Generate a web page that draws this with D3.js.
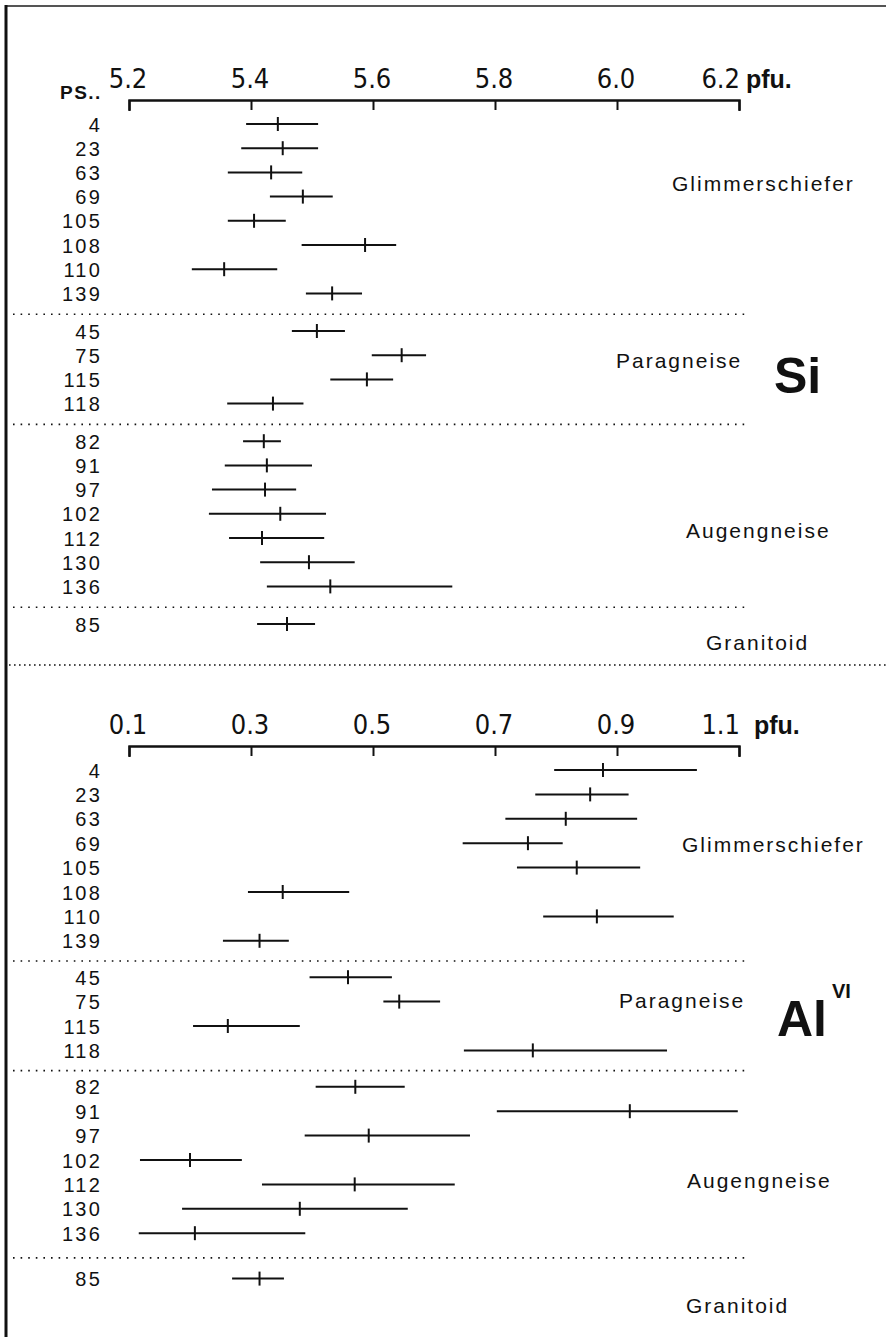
<!DOCTYPE html>
<html>
<head>
<meta charset="utf-8">
<script src="https://cdn.jsdelivr.net/npm/d3@7"></script>
<style>
  html, body { margin: 0; padding: 0; background: #fff; }
  svg { display: block; }
  .lbl { font-family: "Liberation Sans", Arial, sans-serif; fill: #111; }
  .tick-lbl { font-family: "Liberation Sans Narrow", "DejaVu Sans Condensed", sans-serif; fill: #111; }
</style>
</head>
<body>
<svg id="chart" width="886" height="1337"></svg>
<script>
// ---------------- DATA ----------------
const groups = ["Glimmerschiefer", "Paragneise", "Augengneise", "Granitoid"];
const samples = ["4","23","63","69","105","108","110","139","45","75","115","118","82","91","97","102","112","130","136","85"];
const sampleGroup = [0,0,0,0,0,0,0,0,1,1,1,1,2,2,2,2,2,2,2,3];

const siTicks = [5.2, 5.4, 5.6, 5.8, 6.0, 6.2];
const siTickLabels = ["5.2", "5.4", "5.6", "5.8", "6.0", "6.2"];
const siMean = [5.444,5.452,5.433,5.485,5.405,5.587,5.356,5.533,5.508,5.647,5.590,5.436,5.421,5.426,5.423,5.448,5.418,5.495,5.530,5.459];
const siLow  = [5.392,5.384,5.362,5.431,5.362,5.483,5.303,5.490,5.467,5.598,5.530,5.361,5.387,5.357,5.336,5.331,5.364,5.415,5.426,5.410];
const siHigh = [5.510,5.510,5.484,5.534,5.457,5.638,5.443,5.582,5.554,5.687,5.633,5.486,5.449,5.500,5.474,5.523,5.520,5.570,5.730,5.505];

const alTicks = [0.1, 0.3, 0.5, 0.7, 0.9, 1.1];
const alTickLabels = ["0.1", "0.3", "0.5", "0.7", "0.9", "1.1"];
const alMean = [0.877,0.856,0.816,0.754,0.834,0.352,0.867,0.314,0.459,0.543,0.262,0.762,0.471,0.921,0.493,0.200,0.470,0.380,0.208,0.314];
const alLow  = [0.797,0.766,0.717,0.647,0.736,0.295,0.779,0.254,0.396,0.517,0.205,0.649,0.406,0.703,0.388,0.118,0.318,0.187,0.116,0.269];
const alHigh = [1.031,0.919,0.933,0.811,0.938,0.461,0.993,0.362,0.531,0.610,0.380,0.982,0.552,1.098,0.659,0.285,0.634,0.557,0.389,0.354];

// ---------------- DRAW ----------------
const svg = d3.select("#chart");
const ink = "#111";

// frame
svg.append("line").attr("x1", 5).attr("x2", 886).attr("y1", 6).attr("y2", 6)
  .attr("stroke", "#555").attr("stroke-width", 2);
svg.append("line").attr("x1", 6).attr("x2", 6).attr("y1", 5).attr("y2", 1337)
  .attr("stroke", ink).attr("stroke-width", 3);

// section separator
svg.append("line").attr("x1", 9).attr("x2", 886).attr("y1", 665).attr("y2", 665)
  .attr("stroke", ink).attr("stroke-width", 1.6).attr("stroke-dasharray", "1.6,3.4");

function drawSection(cfg) {
  const x = d3.scaleLinear().domain(cfg.domain).range([129, 739]);
  const rowY = d3.scaleLinear().domain([0, 1]).range([cfg.top, cfg.top + cfg.step]);
  const yOf = (i) => rowY(i) + cfg.gaps[sampleGroup[i]];

  const g = svg.append("g");

  // axis: line with ticks hanging down
  const ax = g.append("g").attr("transform", `translate(0,${cfg.axisY})`)
    .call(d3.axisBottom(x).tickValues(cfg.ticks).tickSize(10).tickSizeOuter(11).tickFormat(""));
  ax.select(".domain").attr("stroke", ink).attr("stroke-width", 2.4);
  ax.selectAll(".tick line").attr("stroke", ink).attr("stroke-width", 2);

  // tick labels above the axis
  g.selectAll(null).data(cfg.ticks).enter().append("text")
    .attr("class", "tick-lbl")
    .attr("x", (d, i) => i === cfg.ticks.length - 1 ? x(d) + 1 : x(d) - 1)
    .attr("y", cfg.axisY - 12)
    .attr("text-anchor", (d, i) => i === cfg.ticks.length - 1 ? "end" : "middle")
    .attr("font-size", 27)
    .text((d, i) => cfg.tickLabels[i]);

  g.append("text").attr("class", "lbl")
    .attr("x", cfg.pfuX).attr("y", cfg.axisY - 12)
    .attr("font-size", 25).attr("font-weight", "bold")
    .text("pfu.");

  // row labels
  g.selectAll(null).data(samples).enter().append("text")
    .attr("class", "lbl")
    .attr("x", 102).attr("y", (d, i) => yOf(i) + 7.5)
    .attr("text-anchor", "end")
    .attr("font-size", 20).attr("letter-spacing", 2.2)
    .text(d => d);

  // error bars
  g.selectAll(null).data(samples).enter().append("line")
    .attr("x1", (d, i) => x(cfg.low[i])).attr("x2", (d, i) => x(cfg.high[i]))
    .attr("y1", (d, i) => yOf(i)).attr("y2", (d, i) => yOf(i))
    .attr("stroke", ink).attr("stroke-width", 2);
  g.selectAll(null).data(samples).enter().append("line")
    .attr("x1", (d, i) => x(cfg.mean[i])).attr("x2", (d, i) => x(cfg.mean[i]))
    .attr("y1", (d, i) => yOf(i) - 7).attr("y2", (d, i) => yOf(i) + 7)
    .attr("stroke", ink).attr("stroke-width", 2);

  // group separators (dotted)
  for (let k = 1; k < groups.length; k++) {
    const first = sampleGroup.indexOf(k);
    const ySep = (yOf(first - 1) + yOf(first)) / 2 + 2;
    g.append("line").attr("x1", 13).attr("x2", 746).attr("y1", ySep).attr("y2", ySep)
      .attr("stroke", ink).attr("stroke-width", 1.6).attr("stroke-dasharray", "1.6,6");
  }

  // group names
  cfg.groupPos.forEach((p, k) => {
    g.append("text").attr("class", "lbl")
      .attr("x", p[0]).attr("y", p[1])
      .attr("font-size", 21).attr("letter-spacing", 2)
      .text(groups[k]);
  });

  return g;
}

const siG = drawSection({
  domain: [5.2, 6.2], ticks: siTicks, tickLabels: siTickLabels,
  mean: siMean, low: siLow, high: siHigh,
  axisY: 100, top: 124, step: 24.2, gaps: [0, 13.4, 26.8, 40.2],
  pfuX: 746,
  groupPos: [[672, 191], [616, 368], [686, 538], [706, 650]]
});
siG.append("text").attr("class", "lbl")
  .attr("x", 60).attr("y", 99).attr("font-size", 19).attr("font-weight", "bold")
  .attr("letter-spacing", 1.5).text("PS..");
siG.append("text").attr("class", "lbl")
  .attr("x", 774).attr("y", 393).attr("font-size", 50).attr("font-weight", "bold")
  .text("Si");

const alG = drawSection({
  domain: [0.1, 1.1], ticks: alTicks, tickLabels: alTickLabels,
  mean: alMean, low: alLow, high: alHigh,
  axisY: 746, top: 770, step: 24.4, gaps: [0, 12, 24, 45],
  pfuX: 754,
  groupPos: [[682, 852], [619, 1008], [687, 1188], [686, 1313]]
});
const alT = alG.append("text").attr("class", "lbl")
  .attr("x", 777).attr("y", 1036).attr("font-size", 50).attr("font-weight", "bold");
alT.append("tspan").text("Al");
alT.append("tspan").attr("dx", 5).attr("dy", -38).attr("font-size", 20).text("VI");
</script>
</body>
</html>
